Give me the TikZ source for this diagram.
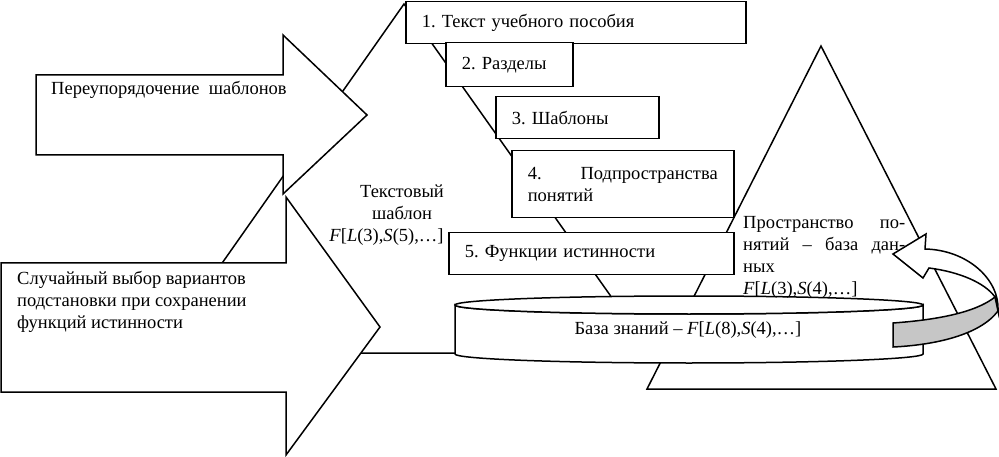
\documentclass[tikz,border=0pt]{standalone}
\usepackage{fontspec}
\setmainfont{Liberation Serif}
\frenchspacing
\begin{document}
\begin{tikzpicture}[x=1pt,y=-1pt,
  every node/.style={font=\fontsize{18.5}{22}\selectfont, inner sep=0pt},
  ln/.style={line width=1.5pt, line join=miter},
  box/.style={ln, draw, fill=white, anchor=north west, inner xsep=16pt, inner ysep=0pt, align=left},
  band/.style={ln, fill=gray!45}]
\useasboundingbox (0,0) rectangle (999,457);

% triangles
\draw[ln] (404,4) -- (159,353) -- (651,353) -- cycle;
\draw[ln] (821,46) -- (647,389) -- (996,389) -- cycle;

% boxes
\node[box, text width=308pt, minimum height=42pt] (b1) at (405,1) {1. Текст учебного пособия};
\node[box, text width=95pt, minimum height=44pt] (b2) at (445,42) {2. Разделы};
\node[box, text width=131pt, minimum height=42pt] (b3) at (495,96) {3. Шаблоны};
\node[box, text width=190pt, minimum height=67pt] (b4) at (511,150) {4.\hfill Подпространства\\понятий};
\node[box, text width=253pt, minimum height=42pt] (b5) at (448,232) {5. Функции истинности};

% block arrows
\draw[ln, fill=white] (36,75) -- (283,75) -- (283,35) -- (367,115) -- (283,194) -- (283,155) -- (36,155) -- cycle;
\draw[ln, fill=white] (1,263) -- (286,263) -- (286,197) -- (380,327) -- (286,455) -- (286,392) -- (1,392) -- cycle;

% cylinder
\draw[ln, fill=white] (455,305) -- (455,354) arc[start angle=180, end angle=0, x radius=234, y radius=9] -- (923,305) arc[start angle=0, end angle=180, x radius=234, y radius=9] -- cycle;
\draw[ln, fill=white] (689,305) ellipse [x radius=234, y radius=9];
\node (kb) at (688,330) {База знаний – \textit{F}[\textit{L}(8),\textit{S}(4),…]};

% curved arrow
\draw[ln, fill=white] (998,311) .. controls (1000,280) and (968,250) .. (925,249) -- (926,234) -- (893,254) -- (923,278) -- (929,268) .. controls (960,272) and (985,283) .. (995,297) -- cycle;
\draw[band] (893,323) .. controls (935,320) and (975,313) .. (995,297) -- (998,311) .. controls (980,335) and (935,345) .. (893,347) -- cycle;

% texts
\node[anchor=west] (t1) at (51,90) {Переупорядочение\ \ шаблонов};
\node[anchor=west, align=left] (t2) at (17,302) {Случайный выбор вариантов\\подстановки при сохранении\\функций истинности};
\node[align=center] (t3) at (402,215) {Текстовый\\шаблон\\\hspace*{-31pt}\textit{F}[\textit{L}(3),\textit{S}(5),…]};
\node[anchor=west, text width=162pt, align=left] (t4) at (743,257) {Пространство\hfill по-\\нятий\hfill –\hfill база\hfill дан-\\ных\\\textit{F}[\textit{L}(3),\textit{S}(4),…]};
\end{tikzpicture}
\end{document}
